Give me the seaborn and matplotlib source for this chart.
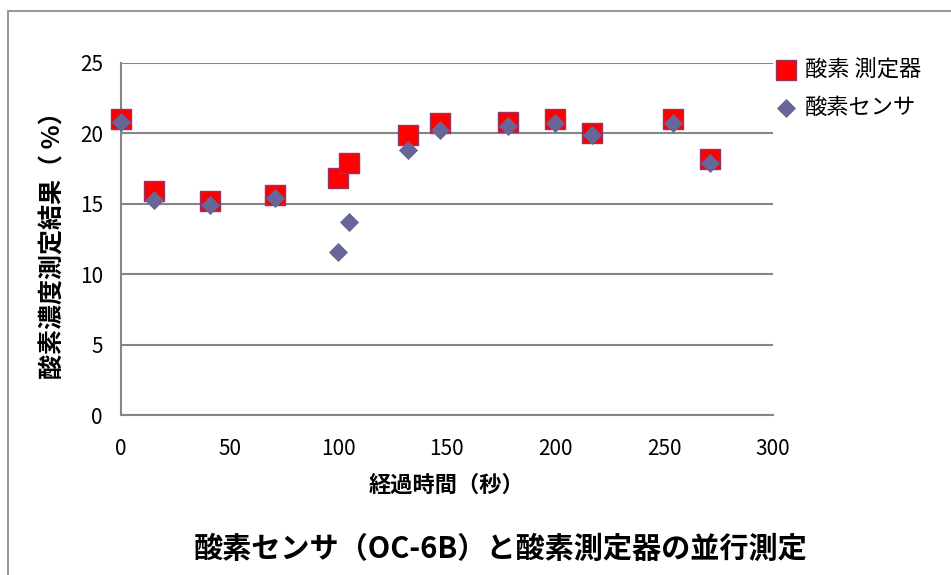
import matplotlib.pyplot as plt
import seaborn as sns
from matplotlib.patches import Rectangle

# 経過時間(秒) and O2 readings (%)
time_sec = [0, 15, 41, 71, 100, 105, 132, 147, 178, 200, 217, 254, 271]
meter_o2 = [21.0, 15.9, 15.2, 15.6, 16.8, 17.9, 19.9, 20.7, 20.8, 21.0, 20.0, 21.0, 18.2]
sensor_o2 = [20.8, 15.3, 14.9, 15.4, 11.6, 13.7, 18.8, 20.2, 20.5, 20.7, 19.9, 20.7, 17.9]

x_ticks = [0, 50, 100, 150, 200, 250, 300]
y_ticks = [0, 5, 10, 15, 20, 25]

sns.set_style("white")
plt.rcParams['font.family'] = ['Noto Sans CJK JP', 'DejaVu Sans']
plt.rcParams['text.color'] = 'black'
plt.rcParams['axes.labelcolor'] = 'black'

fig = plt.figure(figsize=(9.51, 5.75), dpi=100)
ax = fig.add_axes([0.1272, 0.2774, 0.6853, 0.6136])

sns.scatterplot(x=time_sec, y=meter_o2, marker='s', s=190, color='#FF0000',
                edgecolor='#993366', linewidth=1, label='酸素 測定器', ax=ax, zorder=3)
sns.scatterplot(x=time_sec, y=sensor_o2, marker='D', s=95, color='#666699',
                linewidth=0, label='酸素センサ', ax=ax, zorder=4)
for coll in ax.collections:
    coll.set_clip_on(False)

ax.set_xlim(0, 300)
ax.set_ylim(0, 25)
ax.set_xticks(x_ticks)
ax.set_yticks(y_ticks)
ax.grid(axis='y', color='#868686', linewidth=1.5)
ax.grid(axis='x', visible=False)
for side in ['top', 'right']:
    ax.spines[side].set_visible(False)
for side in ['left', 'bottom']:
    ax.spines[side].set_color('#868686')
    ax.spines[side].set_linewidth(1.5)
ax.tick_params(axis='both', length=0, labelsize=15, labelcolor='black')
ax.tick_params(axis='y', pad=13)
ax.tick_params(axis='x', pad=16)

ax.set_xlabel('経過時間（秒）', fontsize=16, fontweight='bold', labelpad=10)
ax.set_ylabel('酸素濃度測定結果（ %）', fontsize=18, fontweight='bold', labelpad=10)

ax.legend(loc='upper left', bbox_to_anchor=(0.99, 1.04), frameon=False,
          fontsize=16, handlelength=1.0, handletextpad=0.35,
          labelspacing=0.7, borderaxespad=0)

fig.text(0.526, 1 - 549 / 575, '酸素センサ（OC-6B）と酸素測定器の並行測定',
         ha='center', va='center', fontsize=21, fontweight='bold')

fig.add_artist(Rectangle((8 / 951, -0.1), 1.2, 1 - 11 / 575 + 0.1,
                         transform=fig.transFigure, fill=False,
                         edgecolor='#868686', linewidth=1.2))

fig.savefig('out.png', dpi=100)
